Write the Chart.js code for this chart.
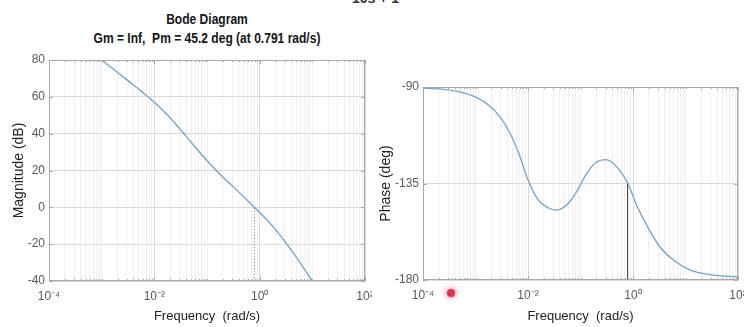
<!DOCTYPE html>
<html lang="en">
<head>
<meta charset="UTF-8" />
<title>Bode Diagram</title>
<script src="https://cdn.jsdelivr.net/npm/chart.js"></script>
<style>
  body { margin: 0; background: #fff; width: 744px; height: 327px; overflow: hidden; position: relative;
         font-family: "Liberation Sans", Arial, sans-serif; }
  .title { position: absolute; left: 0; width: 414px; text-align: center; font-weight: bold; font-size: 14px;
           color: #151515; transform: scaleX(0.86); transform-origin: 207px 0; white-space: nowrap; }
  .tf { position: absolute; left: 352px; top: -10px; font-size: 14px; font-weight: bold; color: #333; }
  .dot { position: absolute; left: 447px; top: 289px; width: 8px; height: 8px; border-radius: 50%;
         background: #e0304c; box-shadow: 0 0 4px 2px rgba(240, 120, 140, 0.6); }
  canvas { position: absolute; }
</style>
</head>
<body>
<div class="tf">10s + 1</div>
<div class="title" style="top:11px">Bode Diagram</div>
<div class="title" style="top:30px">Gm = Inf,&nbsp; Pm = 45.2 deg (at 0.791 rad/s)</div>
<canvas id="mag" width="372" height="279" style="left:0;top:48px"></canvas>
<canvas id="phase" width="368" height="279" style="left:376px;top:48px"></canvas>
<div class="dot"></div>

<script>
// magnitude response (rad/s, dB)
const magW  = [0.001, 0.00178, 0.00316, 0.00562, 0.01, 0.0178, 0.0316, 0.0562, 0.1, 0.178,
               0.316, 0.562, 0.791, 1.0, 1.78, 3.16, 5.62, 10];
const magDb = [80, 74.4, 68.8, 63.1, 57.1, 50.1, 42.1, 33.6, 25.4, 17.8,
               11.1, 4.3, 0, -2.8, -10.3, -19.3, -29.3, -40];

// phase response (rad/s, deg)
const phaseW = [1e-4, 2.09e-4, 5.0e-4, 9.1e-4, 1.62e-3, 2.95e-3, 4.57e-3, 7.08e-3, 0.01, 0.0158, 0.024,
                0.0347, 0.0537, 0.0832, 0.129, 0.2, 0.309, 0.479, 0.791, 1.175, 1.82, 3.24, 5.89, 12.3, 33.9, 100];
const phaseDeg = [-90.5, -90.9, -92.3, -94.3, -97.7, -104, -111.7, -122.6, -133.4, -142.8, -146.3,
                  -147.4, -145.1, -139.1, -130.6, -125.1, -123.9, -127, -134.8, -145.1, -154.4, -164.5, -170.7, -175.4, -177.7, -178.5];

const wc = 0.791;       // gain crossover
const pmPhase = -134.8; // phase at crossover

const magTicks = [-40, -20, 0, 20, 40, 60, 80];
const phaseTicks = [-180, -135, -90];
const freqLabels = { '-4': '10⁻⁴', '-2': '10⁻²', '0': '10⁰', '2': '10²' };

const lineColor = '#6fa3c9';
const tickFont = { family: '"Liberation Sans", Arial, sans-serif', size: 12 };
const titleFont = { family: '"Liberation Sans", Arial, sans-serif', size: 13 };

function decadeTicks() {
  const out = [];
  for (let k = -4; k < 2; k++) {
    for (let m = 1; m < 10; m++) out.push({ value: m * Math.pow(10, k) });
  }
  out.push({ value: 100 });
  return out;
}

function isLabeled(v) {
  const e = Math.log10(v);
  return Math.abs(e - Math.round(e)) < 1e-9 && freqLabels[String(Math.round(e))] !== undefined;
}

// box around the plot area with inward tick marks
const boxPlugin = {
  id: 'box',
  afterDraw(chart) {
    const { ctx, chartArea: a, scales } = chart;
    ctx.save();
    ctx.strokeStyle = '#a8a8a8';
    ctx.lineWidth = 1;
    ctx.strokeRect(a.left + 0.5, a.top + 0.5, a.right - a.left - 1, a.bottom - a.top - 1);
    ctx.beginPath();
    scales.x.ticks.forEach(t => {
      const x = Math.round(scales.x.getPixelForValue(t.value)) + 0.5;
      const len = isLabeled(t.value) ? 4 : 2;
      ctx.moveTo(x, a.top); ctx.lineTo(x, a.top + len);
      ctx.moveTo(x, a.bottom); ctx.lineTo(x, a.bottom - len);
    });
    scales.y.ticks.forEach(t => {
      const y = Math.round(scales.y.getPixelForValue(t.value)) + 0.5;
      ctx.moveTo(a.left, y); ctx.lineTo(a.left + 4, y);
      ctx.moveTo(a.right, y); ctx.lineTo(a.right - 4, y);
    });
    ctx.stroke();
    ctx.restore();
  }
};

function freqAxis(height) {
  return {
    type: 'logarithmic',
    min: 1e-4,
    max: 100,
    afterBuildTicks: s => { s.ticks = decadeTicks(); },
    afterFit: s => { s.height = height; s.paddingLeft = 0; s.paddingRight = 0; },
    ticks: {
      autoSkip: false,
      maxRotation: 0,
      padding: 8,
      color: '#5a5a5a',
      font: tickFont,
      callback: v => isLabeled(v) ? freqLabels[String(Math.round(Math.log10(v)))] : ''
    },
    grid: {
      drawTicks: false,
      color: c => isLabeled(c.tick.value) && Math.round(Math.log10(c.tick.value)) % 2 === 0 ? '#dadada' : '#f0f0f0'
    },
    border: { display: false },
    title: { display: true, text: 'Frequency  (rad/s)', color: '#222', font: titleFont,
             padding: { top: 0, bottom: 3 } }
  };
}

function valueAxis(min, max, ticks, width, label, titlePad) {
  return {
    min: min,
    max: max,
    afterBuildTicks: s => { s.ticks = ticks.map(v => ({ value: v })); },
    afterFit: s => { s.width = width; s.paddingTop = 0; s.paddingBottom = 0; },
    ticks: { padding: 4, color: '#5a5a5a', font: tickFont },
    grid: { drawTicks: false, color: '#dadada' },
    border: { display: false },
    title: { display: true, text: label, color: '#222', font: { ...titleFont, size: 14 },
             padding: { top: titlePad, bottom: 0 } }
  };
}

new Chart(document.getElementById('mag'), {
  type: 'line',
  data: {
    datasets: [
      {
        data: magW.map((w, i) => ({ x: w, y: magDb[i] })),
        borderColor: lineColor,
        borderWidth: 1.3,
        pointRadius: 0,
        cubicInterpolationMode: 'monotone'
      },
      {
        data: [{ x: wc, y: -40 }, { x: wc, y: 0 }],
        borderColor: '#888',
        borderWidth: 1,
        borderDash: [1, 2],
        pointRadius: 0
      }
    ]
  },
  options: {
    responsive: false,
    animation: false,
    layout: { padding: { top: 12, right: 7, left: 0, bottom: 0 } },
    plugins: { legend: { display: false }, tooltip: { enabled: false } },
    scales: {
      x: freqAxis(46),
      y: valueAxis(-40, 80, magTicks, 49, 'Magnitude (dB)', 11)
    }
  },
  plugins: [boxPlugin]
});

new Chart(document.getElementById('phase'), {
  type: 'line',
  data: {
    datasets: [
      {
        data: phaseW.map((w, i) => ({ x: w, y: phaseDeg[i] })),
        borderColor: lineColor,
        borderWidth: 1.3,
        pointRadius: 0,
        cubicInterpolationMode: 'monotone'
      },
      {
        data: [{ x: wc, y: -180 }, { x: wc, y: pmPhase }],
        borderColor: '#333',
        borderWidth: 1,
        pointRadius: 0
      }
    ]
  },
  options: {
    responsive: false,
    animation: false,
    layout: { padding: { top: 39, right: 6, left: 0, bottom: 0 } },
    plugins: { legend: { display: false }, tooltip: { enabled: false } },
    scales: {
      x: freqAxis(47),
      y: valueAxis(-180, -90, phaseTicks, 47, 'Phase (deg)', 2)
    }
  },
  plugins: [boxPlugin]
});
</script>
</body>
</html>
